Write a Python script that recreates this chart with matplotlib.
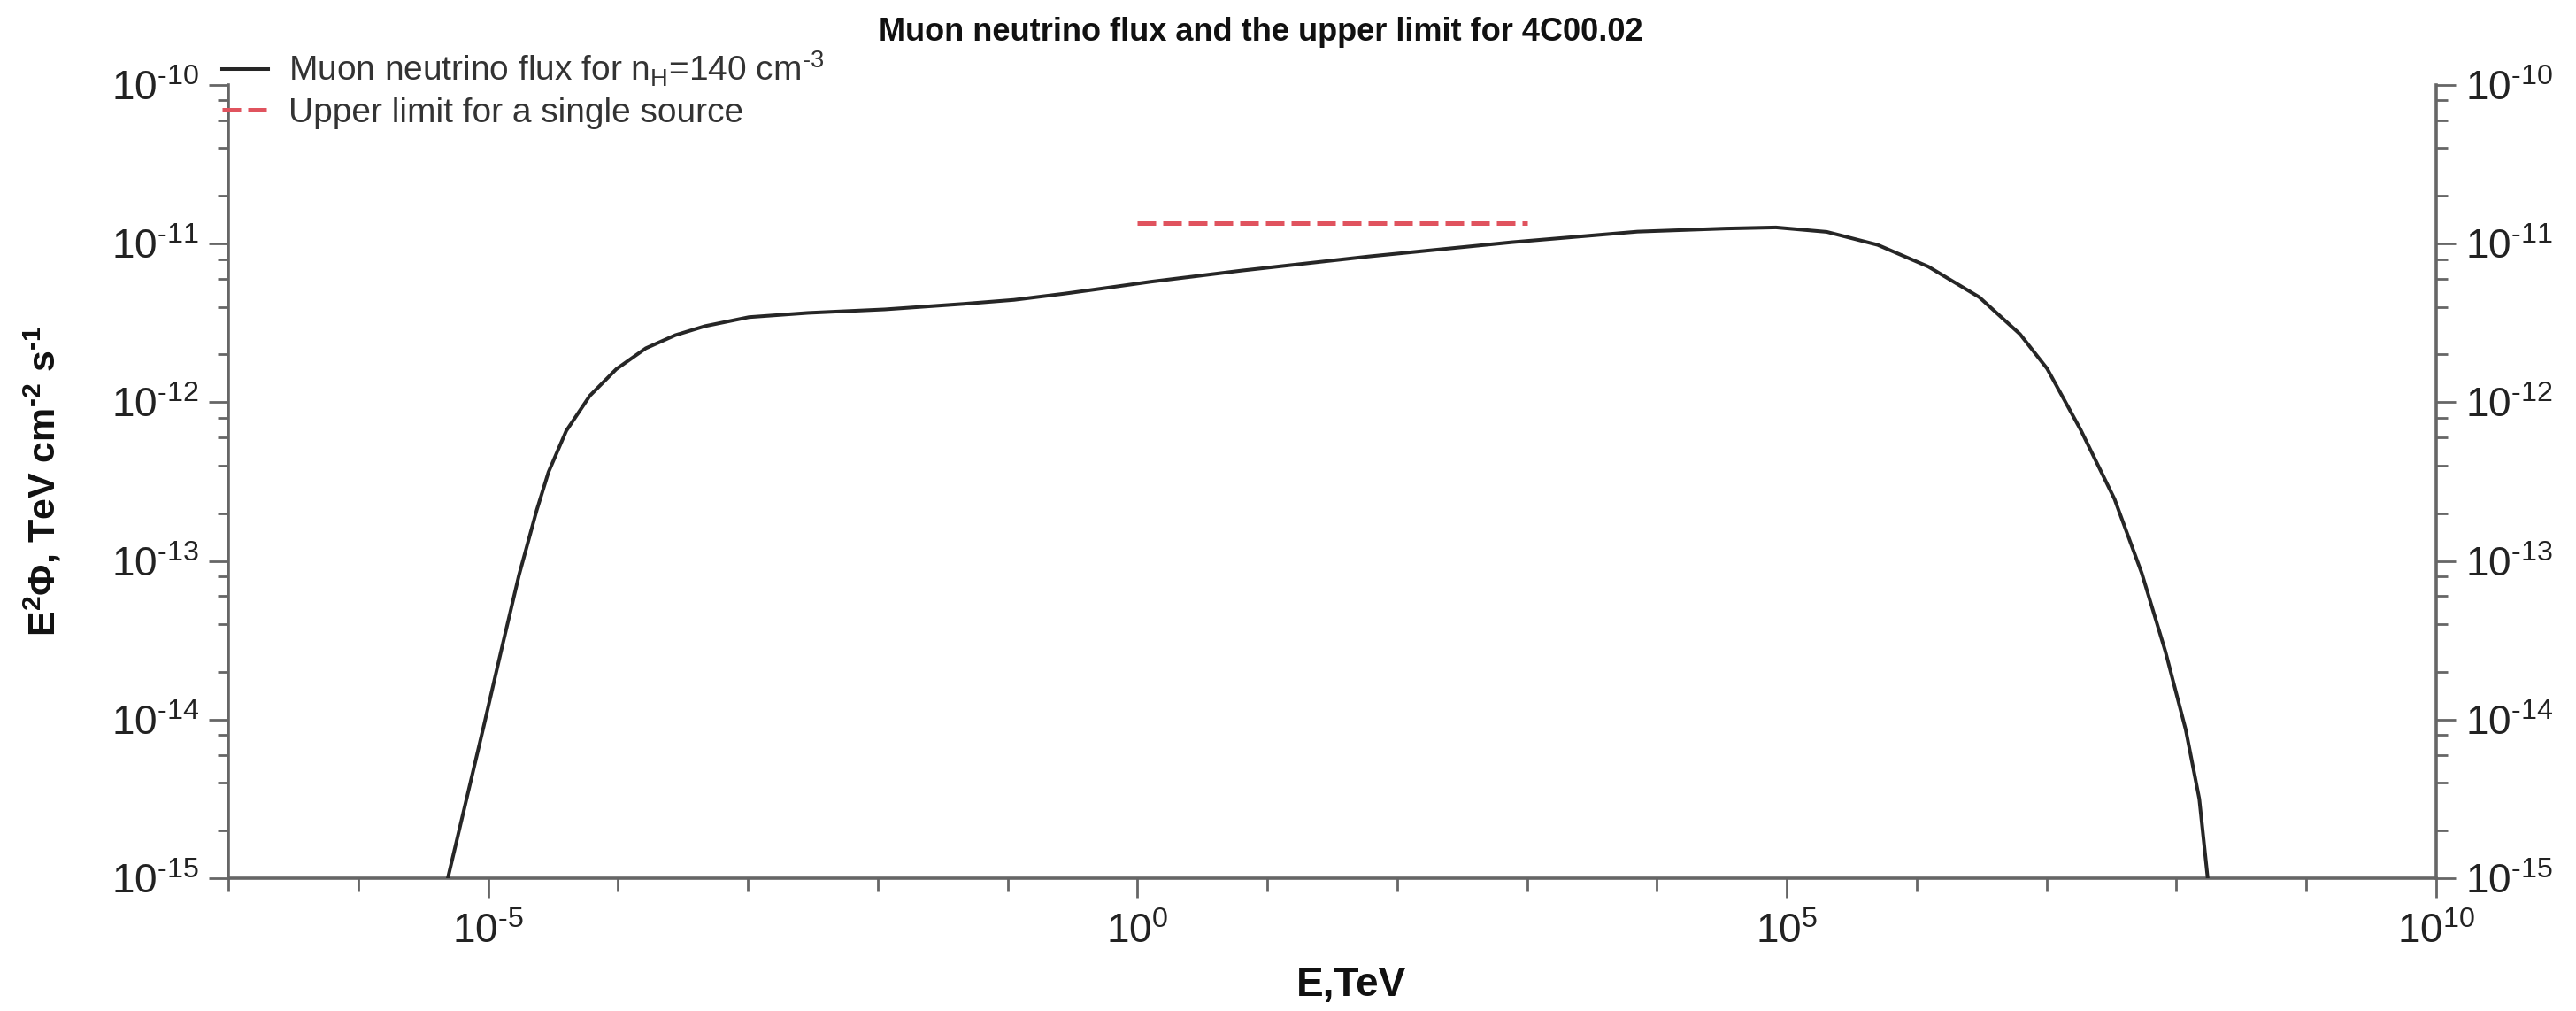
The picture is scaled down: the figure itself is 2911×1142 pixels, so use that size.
import matplotlib
matplotlib.use("Agg")
import matplotlib.pyplot as plt
from matplotlib.ticker import FixedLocator, NullFormatter, FuncFormatter
import numpy as np

plt.rcParams['font.family'] = ['Liberation Sans', 'DejaVu Sans']
plt.rcParams['mathtext.fontset'] = 'custom'
plt.rcParams['mathtext.rm'] = 'Liberation Sans'
plt.rcParams['mathtext.it'] = 'Liberation Sans:italic'
plt.rcParams['mathtext.bf'] = 'Liberation Sans:bold'

# ---- data ----
energy_tev = [4.90e-6, 9.27e-6, 1.27e-5, 1.73e-5, 2.37e-5, 2.92e-5, 4.00e-5, 6.08e-5,
              9.73e-5, 1.64e-4, 2.77e-4, 4.68e-4, 1.02e-3, 2.91e-3, 1.13e-2, 4.57e-2,
              0.112, 0.275, 0.569, 1.26, 6.31, 61.7, 759, 7.08e3, 3.36e4, 8.26e4,
              2.03e5, 5.01e5, 1.23e6, 3.03e6, 6.24e6, 1.01e7, 1.83e7, 3.34e7,
              5.41e7, 8.22e7, 1.18e8, 1.50e8, 1.74e8]
flux = [1.0e-15, 9.12e-15, 2.78e-14, 8.13e-14, 2.09e-13, 3.63e-13, 6.61e-13, 1.10e-12,
        1.62e-12, 2.19e-12, 2.65e-12, 3.02e-12, 3.44e-12, 3.66e-12, 3.85e-12, 4.17e-12,
        4.42e-12, 4.84e-12, 5.25e-12, 5.75e-12, 6.76e-12, 8.32e-12, 1.02e-11, 1.19e-11,
        1.245e-11, 1.265e-11, 1.186e-11, 9.82e-12, 7.16e-12, 4.60e-12, 2.69e-12,
        1.63e-12, 6.71e-13, 2.45e-13, 8.36e-14, 2.69e-14, 8.61e-15, 3.16e-15, 1.0e-15]
limit_energy = [1.0, 1.0e3]
limit_flux = [1.35e-11, 1.35e-11]

x_major_labeled = [1e-5, 1e0, 1e5, 1e10]
x_limits = [1e-7, 1e10]
y_limits = [1e-15, 1e-10]

title = "Muon neutrino flux and the upper limit for 4C00.02"
label_flux = "Muon neutrino flux for n$_\\mathregular{H}$=140 cm$^\\mathregular{\u20103}$"
label_limit = "Upper limit for a single source"

W, H = 2911, 1142
fig = plt.figure(figsize=(W / 100, H / 100), dpi=100)
ax = fig.add_axes([258 / W, 1 - 992 / H, (2753 - 258) / W, (992 - 96) / H])

ax.plot(energy_tev, flux, color='#262626', lw=2.9, label=label_flux, zorder=3,
        solid_joinstyle='round')
ax.plot(limit_energy, limit_flux, color='#e0535e', lw=3.6, dashes=(4.2, 1.6),
        label=label_limit, zorder=3)

ax.set_xscale('log')
ax.set_yscale('log')
ax.set_xlim(*x_limits)
ax.set_ylim(*y_limits)

spine_c = '#666666'
for s in ['left', 'right', 'bottom']:
    ax.spines[s].set_color(spine_c)
    ax.spines[s].set_linewidth(2.6)
ax.spines['top'].set_visible(False)

def sci(v, pos=None):
    e = int(round(np.log10(v)))
    if e < 0:
        return "$\\mathregular{10^{\u2010%d}}$" % (-e)
    return "$\\mathregular{10^{%d}}$" % e

# x ticks: every decade, labels every 5 decades
ax.xaxis.set_major_locator(FixedLocator(x_major_labeled))
ax.xaxis.set_major_formatter(FuncFormatter(sci))
ax.xaxis.set_minor_locator(FixedLocator([10.0 ** k for k in range(-7, 11)]))
ax.xaxis.set_minor_formatter(NullFormatter())
ax.tick_params(axis='x', which='major', direction='out', length=16, width=2.0,
               color=spine_c, labelsize=33, pad=12, labelcolor='#222222')
ax.tick_params(axis='x', which='minor', direction='out', length=11, width=2.0,
               color=spine_c)

# y ticks both sides
ax.yaxis.set_major_locator(FixedLocator([10.0 ** k for k in range(-15, -9)]))
ax.yaxis.set_major_formatter(FuncFormatter(sci))
ymin = []
for k in range(-15, -10):
    for m in (2, 4, 6, 8):
        ymin.append(m * 10.0 ** k)
ax.yaxis.set_minor_locator(FixedLocator(ymin))
ax.yaxis.set_minor_formatter(NullFormatter())
ax.tick_params(axis='y', which='major', direction='out', length=16, width=2.0,
               color=spine_c, labelsize=33, pad=8, left=True, right=True,
               labelleft=True, labelright=True, labelcolor='#222222')
ax.tick_params(axis='y', which='minor', direction='out', length=9, width=2.0,
               color=spine_c, left=True, right=True)

fig.text(1425 / W, 1 - 36 / H, title, ha='center', va='center',
         fontsize=26, fontweight='bold', color='#111111')
fig.text(1527 / W, 1 - 1113 / H, "E,TeV", ha='center', va='center',
         fontsize=33, fontweight='bold', color='#111111')
fig.text(48 / W, 1 - 543 / H,
         "E$^\\mathbf{2}\\mathbf{\\Phi}$, TeV cm$^\\mathbf{\u20102}$ s$^\\mathbf{\u20101}$",
         ha='center', va='center', rotation=90,
         fontsize=31, fontweight='bold', color='#111111')

leg = ax.legend(loc='upper left', bbox_to_anchor=(-0.003, 1.045), frameon=False,
                fontsize=28, handlelength=1.35, handletextpad=0.6,
                labelspacing=0.25, borderaxespad=0, borderpad=0)
for t in leg.get_texts():
    t.set_color('#333333')

fig.savefig("out.png", dpi=100, facecolor='white')
